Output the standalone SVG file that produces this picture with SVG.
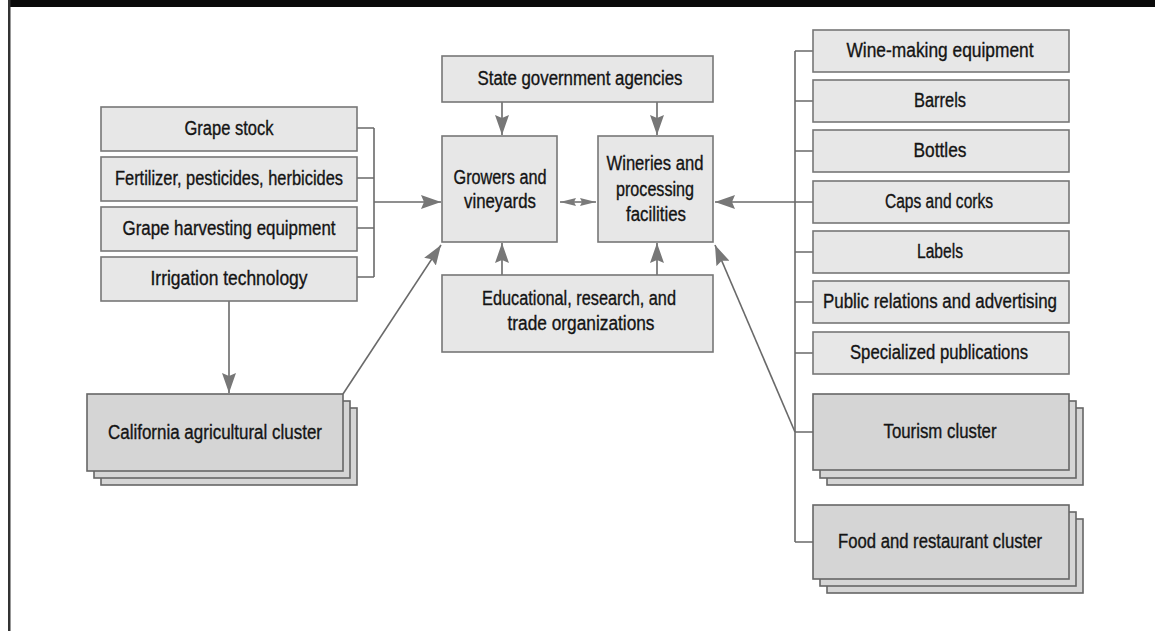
<svg xmlns="http://www.w3.org/2000/svg" width="1155" height="631" viewBox="0 0 1155 631">
<style>
.box{fill:#e7e7e7;stroke:#777;stroke-width:1.6}
.cl{fill:#d5d5d5;stroke:#666;stroke-width:1.6}
.t{font-family:"Liberation Sans",Arial,sans-serif;font-size:20px;fill:#141414;stroke:#141414;stroke-width:0.35;text-anchor:middle}
.ln{fill:none;stroke:#6a6a6a;stroke-width:1.6}
</style>
<defs>
<marker id="ah" markerUnits="userSpaceOnUse" markerWidth="20" markerHeight="14" refX="20" refY="7" orient="auto">
<path d="M0,0 L20,7 L0,14 L3,7 z" fill="#777"/>
</marker>
<marker id="sh" markerUnits="userSpaceOnUse" markerWidth="16" markerHeight="8" refX="16" refY="4" orient="auto-start-reverse">
<path d="M0,0 L16,4 L0,8 L2,4 z" fill="#7a7a7a"/>
</marker>
</defs>
<rect x="0" y="0" width="1155" height="631" fill="#fff"/>
<rect x="8" y="0" width="1147" height="7" fill="#0a0a0a"/>
<rect x="8" y="0" width="2.5" height="631" fill="#333"/>

<g id="connectors">
<path class="ln" d="M357,128 H374 M357,178 H374 M357,228 H374 M357,277 H374 M374,128 V277"/>
<line class="ln" x1="374" y1="202" x2="441" y2="202" marker-end="url(#ah)"/>
<line class="ln" x1="229" y1="301" x2="229" y2="393" marker-end="url(#ah)"/>
<line class="ln" x1="343" y1="394" x2="441" y2="245" marker-end="url(#ah)"/>
<line class="ln" x1="502" y1="102" x2="502" y2="135" marker-end="url(#ah)"/>
<line class="ln" x1="657" y1="102" x2="657" y2="135" marker-end="url(#ah)"/>
<line class="ln" x1="502" y1="275" x2="502" y2="243" marker-end="url(#ah)"/>
<line class="ln" x1="657" y1="275" x2="657" y2="243" marker-end="url(#ah)"/>
<line class="ln" x1="560" y1="202" x2="596" y2="202" stroke-width="1.2" marker-start="url(#sh)" marker-end="url(#sh)"/>
<path class="ln" d="M795,51 V542 M795,51 H813 M795,101 H813 M795,151 H813 M795,202 H813 M795,252 H813 M795,302 H813 M795,353 H813 M795,432 H813 M795,542 H813"/>
<line class="ln" x1="795" y1="202" x2="715" y2="202" marker-end="url(#ah)"/>
<line class="ln" x1="795" y1="432" x2="715" y2="245" marker-end="url(#ah)"/>
</g>

<g id="grape-stock"><rect class="box" x="101" y="107" width="256" height="44"/><text class="t" x="229" y="135" textLength="89" lengthAdjust="spacingAndGlyphs">Grape stock</text></g>
<g id="fertilizer"><rect class="box" x="101" y="157" width="256" height="44"/><text class="t" x="229" y="185" textLength="228" lengthAdjust="spacingAndGlyphs">Fertilizer, pesticides, herbicides</text></g>
<g id="harvesting"><rect class="box" x="101" y="207" width="256" height="44"/><text class="t" x="229" y="235" textLength="213" lengthAdjust="spacingAndGlyphs">Grape harvesting equipment</text></g>
<g id="irrigation"><rect class="box" x="101" y="257" width="256" height="44"/><text class="t" x="229" y="285" textLength="157" lengthAdjust="spacingAndGlyphs">Irrigation technology</text></g>

<g id="california">
<rect class="cl" x="101" y="408" width="256" height="77"/>
<rect class="cl" x="94" y="401" width="256" height="77"/>
<rect class="cl" x="87" y="394" width="256" height="77"/>
<text class="t" x="215" y="439" textLength="214" lengthAdjust="spacingAndGlyphs">California agricultural cluster</text>
</g>

<g id="state-gov"><rect class="box" x="442" y="56" width="271" height="46"/><text class="t" x="580" y="85" textLength="205" lengthAdjust="spacingAndGlyphs">State government agencies</text></g>
<g id="growers"><rect class="box" x="442" y="136" width="115" height="106"/>
<text class="t" x="500" y="184" textLength="93" lengthAdjust="spacingAndGlyphs">Growers and</text>
<text class="t" x="500" y="208" textLength="72" lengthAdjust="spacingAndGlyphs">vineyards</text></g>
<g id="wineries"><rect class="box" x="598" y="136" width="115" height="106"/>
<text class="t" x="655" y="170" textLength="97" lengthAdjust="spacingAndGlyphs">Wineries and</text>
<text class="t" x="655" y="196" textLength="78" lengthAdjust="spacingAndGlyphs">processing</text>
<text class="t" x="656" y="221" textLength="60" lengthAdjust="spacingAndGlyphs">facilities</text></g>
<g id="educational"><rect class="box" x="442" y="275" width="271" height="77"/>
<text class="t" x="579" y="305" textLength="194" lengthAdjust="spacingAndGlyphs">Educational, research, and</text>
<text class="t" x="581" y="330" textLength="147" lengthAdjust="spacingAndGlyphs">trade organizations</text></g>

<g id="wine-making"><rect class="box" x="813" y="30" width="256" height="42"/><text class="t" x="940" y="57" textLength="187" lengthAdjust="spacingAndGlyphs">Wine-making equipment</text></g>
<g id="barrels"><rect class="box" x="813" y="80" width="256" height="42"/><text class="t" x="940" y="107" textLength="52" lengthAdjust="spacingAndGlyphs">Barrels</text></g>
<g id="bottles"><rect class="box" x="813" y="130" width="256" height="42"/><text class="t" x="940" y="157" textLength="53" lengthAdjust="spacingAndGlyphs">Bottles</text></g>
<g id="caps"><rect class="box" x="813" y="181" width="256" height="42"/><text class="t" x="939" y="208" textLength="108" lengthAdjust="spacingAndGlyphs">Caps and corks</text></g>
<g id="labels"><rect class="box" x="813" y="231" width="256" height="42"/><text class="t" x="940" y="258" textLength="46" lengthAdjust="spacingAndGlyphs">Labels</text></g>
<g id="public-relations"><rect class="box" x="813" y="281" width="256" height="42"/><text class="t" x="940" y="308" textLength="234" lengthAdjust="spacingAndGlyphs">Public relations and advertising</text></g>
<g id="publications"><rect class="box" x="813" y="332" width="256" height="42"/><text class="t" x="939" y="359" textLength="178" lengthAdjust="spacingAndGlyphs">Specialized publications</text></g>

<g id="tourism">
<rect class="cl" x="827" y="408" width="256" height="77"/>
<rect class="cl" x="820" y="401" width="256" height="77"/>
<rect class="cl" x="813" y="394" width="256" height="76"/>
<text class="t" x="940" y="438" textLength="113" lengthAdjust="spacingAndGlyphs">Tourism cluster</text>
</g>
<g id="food">
<rect class="cl" x="827" y="519" width="256" height="74"/>
<rect class="cl" x="820" y="512" width="256" height="74"/>
<rect class="cl" x="813" y="505" width="256" height="74"/>
<text class="t" x="940" y="548" textLength="204" lengthAdjust="spacingAndGlyphs">Food and restaurant cluster</text>
</g>
</svg>
